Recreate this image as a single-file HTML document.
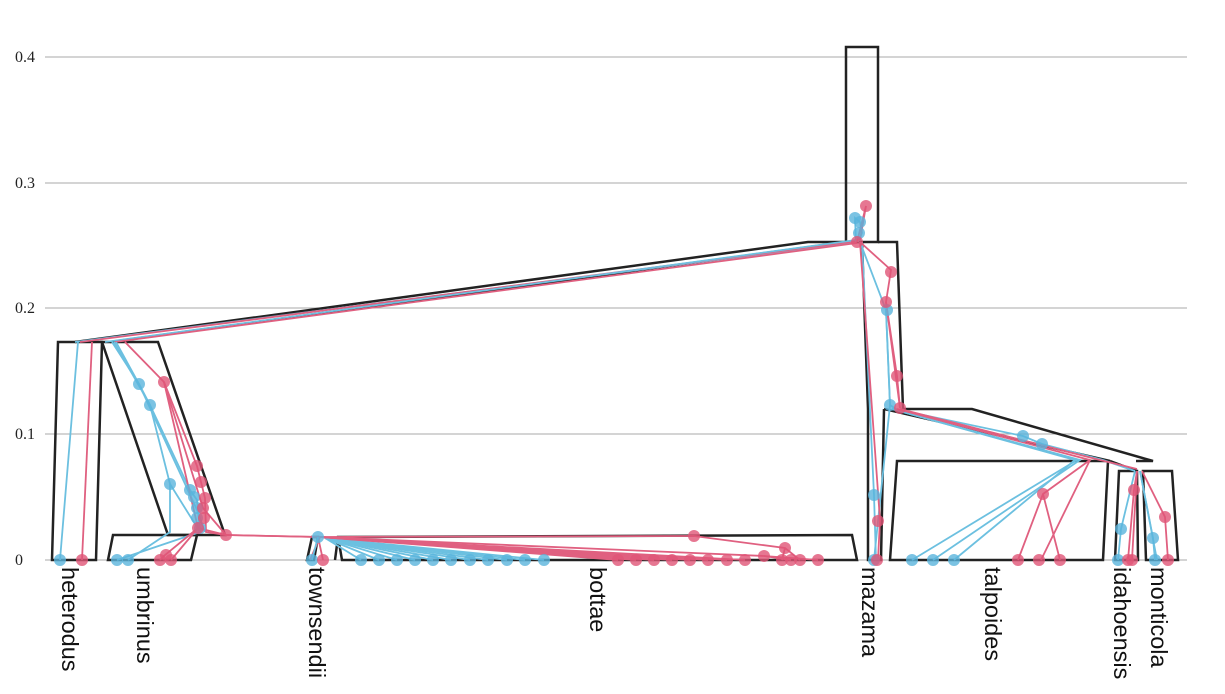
<!DOCTYPE html>
<html><head><style>
html,body{margin:0;padding:0;background:#fff;width:1225px;height:694px;overflow:hidden}
svg{display:block}
.g{stroke:#a8a8a8;stroke-width:1}
.t{font-family:"Liberation Serif",serif;font-size:16px;fill:#222}
.o{fill:none;stroke:#222;stroke-width:2.5;stroke-linejoin:miter}
.b{stroke:#6cc0e0;stroke-width:1.8;fill:none}
.r{stroke:#e06080;stroke-width:1.8;fill:none}
.bp{fill:#5ab4dc;fill-opacity:.8}
.rp{fill:#e05577;fill-opacity:.8}
.l{font-family:"Liberation Sans",sans-serif;font-size:23.5px;fill:#111}
</style></head><body>
<svg width="1225" height="694" viewBox="0 0 1225 694">
<line class="g" x1="45" x2="1187" y1="560" y2="560"/>
<line class="g" x1="45" x2="1187" y1="434" y2="434"/>
<line class="g" x1="45" x2="1187" y1="308" y2="308"/>
<line class="g" x1="45" x2="1187" y1="183" y2="183"/>
<line class="g" x1="45" x2="1187" y1="57" y2="57"/>
<text class="t" x="15" y="565">0</text>
<text class="t" x="15" y="439">0.1</text>
<text class="t" x="15" y="313">0.2</text>
<text class="t" x="15" y="188">0.3</text>
<text class="t" x="15" y="62">0.4</text>

<polygon class="o" points="52,560 58,342 102,342 96,560"/>
<polygon class="o" points="102,342 158,342 225,535 168,535"/>
<polygon class="o" points="108,560 113,535 197,535 191,560"/>
<polyline class="o" points="75,342 808,242 862,242"/>
<polyline class="o" points="110,342 846,242"/>
<polygon class="o" points="846,242 846,47 878,47 878,242"/>
<polyline class="o" points="862,242 868,409 868,560 881,560 884,409"/>
<polyline class="o" points="878,242 897,242 903,409 972,409 1153,461 1136,461"/>
<polyline class="o" points="884,409 1110,461"/>
<polygon class="o" points="307,560 312,537 318,537 314,560"/>
<polygon class="o" points="335,560 338,537 852,535 857,560 342,560 338,537"/>
<polygon class="o" points="890,560 897,461 1108,461 1103,560"/>
<polygon class="o" points="1115,560 1119,471 1137,471 1138,560"/>
<polygon class="o" points="1146,560 1143,471 1172,471 1178,560"/>
<polyline class="o" points="1110,461 1137,471"/>

<polyline class="b" points="75,342 856,242"/>
<polyline class="r" points="80,342 858,241"/>
<polyline class="b" points="105,342 856,240"/>
<polyline class="r" points="115,342 857,243"/>
<polyline class="b" points="78,342 60,560"/>
<polyline class="r" points="92,342 82,560"/>

<polyline class="b" points="112,342 139,384 150,405 170,484 200,532"/>
<polyline class="b" points="114,342 150,405 190,490 197,500 200,532"/>
<polyline class="b" points="116,342 139,384 197,510 205,532"/>
<polyline class="b" points="200,532 117,560"/>
<polyline class="b" points="170,484 170,532 128,560"/>
<polyline class="r" points="125,342 164,382 197,466 201,482 205,498 206,532 226,535"/>
<polyline class="r" points="164,382 203,508 226,535"/>
<polyline class="r" points="164,382 198,528 226,535"/>
<polyline class="r" points="198,528 165,555 160,560"/>
<polyline class="r" points="198,528 171,560"/>

<polyline class="r" points="226,535 318,537 323,560"/>
<polyline class="r" points="226,535 320,537 310,560"/>
<polyline class="b" points="318,537 312,560"/>
<g class="b">
<line x1="325" y1="538" x2="361" y2="560"/><line x1="325" y1="538" x2="379" y2="560"/>
<line x1="325" y1="538" x2="397" y2="560"/><line x1="325" y1="538" x2="415" y2="560"/>
<line x1="325" y1="538" x2="433" y2="560"/><line x1="325" y1="538" x2="451" y2="560"/>
<line x1="325" y1="538" x2="470" y2="560"/><line x1="325" y1="538" x2="488" y2="560"/>
<line x1="325" y1="538" x2="507" y2="560"/><line x1="325" y1="538" x2="525" y2="560"/>
<line x1="325" y1="538" x2="544" y2="560"/>
</g>
<g class="r">
<line x1="320" y1="537" x2="618" y2="560"/><line x1="320" y1="537" x2="636" y2="560"/>
<line x1="320" y1="537" x2="654" y2="560"/><line x1="320" y1="537" x2="672" y2="560"/>
<line x1="320" y1="537" x2="690" y2="560"/><line x1="320" y1="537" x2="708" y2="560"/>
<line x1="320" y1="537" x2="727" y2="560"/><line x1="320" y1="537" x2="745" y2="560"/>
<line x1="320" y1="537" x2="764" y2="556"/><line x1="320" y1="537" x2="694" y2="536"/>
<polyline points="694,536 785,548 800,560"/><polyline points="785,548 782,560"/>
<polyline points="764,556 818,560"/><polyline points="764,556 791,560"/>
</g>

<polyline class="b" points="856,242 855,218 860,222 862,233 858,242"/>
<polyline class="r" points="857,242 866,206 860,240"/>
<polyline class="b" points="860,242 886,310 890,405 874,560"/>
<polyline class="b" points="862,242 874,495 876,560"/>
<polyline class="r" points="860,242 891,270 886,302 897,376 900,408"/>
<polyline class="r" points="860,242 880,520 878,560"/>
<polyline class="b" points="886,310 890,405 896,409"/>
<polyline class="r" points="886,302 900,408"/>

<polyline class="b" points="892,409 1077,460 912,560"/>
<polyline class="b" points="892,409 1080,460 933,560"/>
<polyline class="b" points="892,409 1075,460 954,560"/>
<polyline class="b" points="895,409 1023,436 1042,444 1103,460 1135,471"/>
<polyline class="r" points="897,409 1090,460 1043,494 1018,560"/>
<polyline class="r" points="1090,460 1041,560"/>
<polyline class="r" points="1043,494 1060,560"/>
<polyline class="r" points="900,409 1100,460 1137,469"/>
<polyline class="b" points="1135,471 1121,529 1118,560"/>
<polyline class="r" points="1137,471 1134,490 1128,560"/>
<polyline class="r" points="1137,471 1132,560"/>
<polyline class="b" points="1140,471 1153,538 1155,560"/>
<polyline class="r" points="1142,471 1165,517 1168,560"/>
<polyline class="b" points="1140,471 1157,560"/>

<g class="bp">
<circle cx="60" cy="560" r="6"/>
<circle cx="117" cy="560" r="6"/><circle cx="128" cy="560" r="6"/>
<circle cx="139" cy="384" r="6"/><circle cx="150" cy="405" r="6"/><circle cx="170" cy="484" r="6"/>
<circle cx="190" cy="490" r="6"/><circle cx="194" cy="497" r="6"/><circle cx="197" cy="508" r="6"/>
<circle cx="197" cy="518" r="6"/><circle cx="200" cy="528" r="6"/>
<circle cx="318" cy="537" r="6"/><circle cx="312" cy="560" r="6"/>
<circle cx="361" cy="560" r="6"/><circle cx="379" cy="560" r="6"/><circle cx="397" cy="560" r="6"/>
<circle cx="415" cy="560" r="6"/><circle cx="433" cy="560" r="6"/><circle cx="451" cy="560" r="6"/>
<circle cx="470" cy="560" r="6"/><circle cx="488" cy="560" r="6"/><circle cx="507" cy="560" r="6"/>
<circle cx="525" cy="560" r="6"/><circle cx="544" cy="560" r="6"/>
<circle cx="855" cy="218" r="6"/><circle cx="860" cy="222" r="6"/><circle cx="859" cy="233" r="6"/>
<circle cx="887" cy="310" r="6"/><circle cx="890" cy="405" r="6"/>
<circle cx="874" cy="495" r="6"/><circle cx="874" cy="560" r="6"/>
<circle cx="912" cy="560" r="6"/><circle cx="933" cy="560" r="6"/><circle cx="954" cy="560" r="6"/>
<circle cx="1023" cy="436" r="6"/><circle cx="1042" cy="444" r="6"/>
<circle cx="1121" cy="529" r="6"/><circle cx="1118" cy="560" r="6"/>
<circle cx="1153" cy="538" r="6"/><circle cx="1155" cy="560" r="6"/>
</g>
<g class="rp">
<circle cx="82" cy="560" r="6"/>
<circle cx="160" cy="560" r="6"/><circle cx="166" cy="555" r="6"/><circle cx="171" cy="560" r="6"/>
<circle cx="164" cy="382" r="6"/><circle cx="197" cy="466" r="6"/><circle cx="201" cy="482" r="6"/>
<circle cx="205" cy="498" r="6"/><circle cx="203" cy="508" r="6"/><circle cx="204" cy="518" r="6"/>
<circle cx="198" cy="528" r="6"/><circle cx="226" cy="535" r="6"/>
<circle cx="323" cy="560" r="6"/>
<circle cx="618" cy="560" r="6"/><circle cx="636" cy="560" r="6"/><circle cx="654" cy="560" r="6"/>
<circle cx="672" cy="560" r="6"/><circle cx="690" cy="560" r="6"/><circle cx="708" cy="560" r="6"/>
<circle cx="727" cy="560" r="6"/><circle cx="745" cy="560" r="6"/><circle cx="764" cy="556" r="6"/>
<circle cx="782" cy="560" r="6"/><circle cx="791" cy="560" r="6"/><circle cx="800" cy="560" r="6"/>
<circle cx="818" cy="560" r="6"/><circle cx="694" cy="536" r="6"/><circle cx="785" cy="548" r="6"/>
<circle cx="866" cy="206" r="6"/><circle cx="857" cy="242" r="6"/>
<circle cx="891" cy="272" r="6"/><circle cx="886" cy="302" r="6"/><circle cx="897" cy="376" r="6"/>
<circle cx="900" cy="408" r="6"/><circle cx="878" cy="521" r="6"/><circle cx="877" cy="560" r="6"/>
<circle cx="1018" cy="560" r="6"/><circle cx="1039" cy="560" r="6"/><circle cx="1060" cy="560" r="6"/>
<circle cx="1043" cy="494" r="6"/>
<circle cx="1134" cy="490" r="6"/><circle cx="1128" cy="560" r="6"/><circle cx="1132" cy="560" r="6"/>
<circle cx="1165" cy="517" r="6"/><circle cx="1168" cy="560" r="6"/>
</g>

<g class="l">
<text transform="translate(62,567) rotate(90)">heterodus</text>
<text transform="translate(137,567) rotate(90)">umbrinus</text>
<text transform="translate(309,567) rotate(90)">townsendii</text>
<text transform="translate(590,567) rotate(90)">bottae</text>
<text transform="translate(862,567) rotate(90)">mazama</text>
<text transform="translate(985,567) rotate(90)">talpoides</text>
<text transform="translate(1114,567) rotate(90)">idahoensis</text>
<text transform="translate(1151,567) rotate(90)">monticola</text>
</g>
</svg>
</body></html>
